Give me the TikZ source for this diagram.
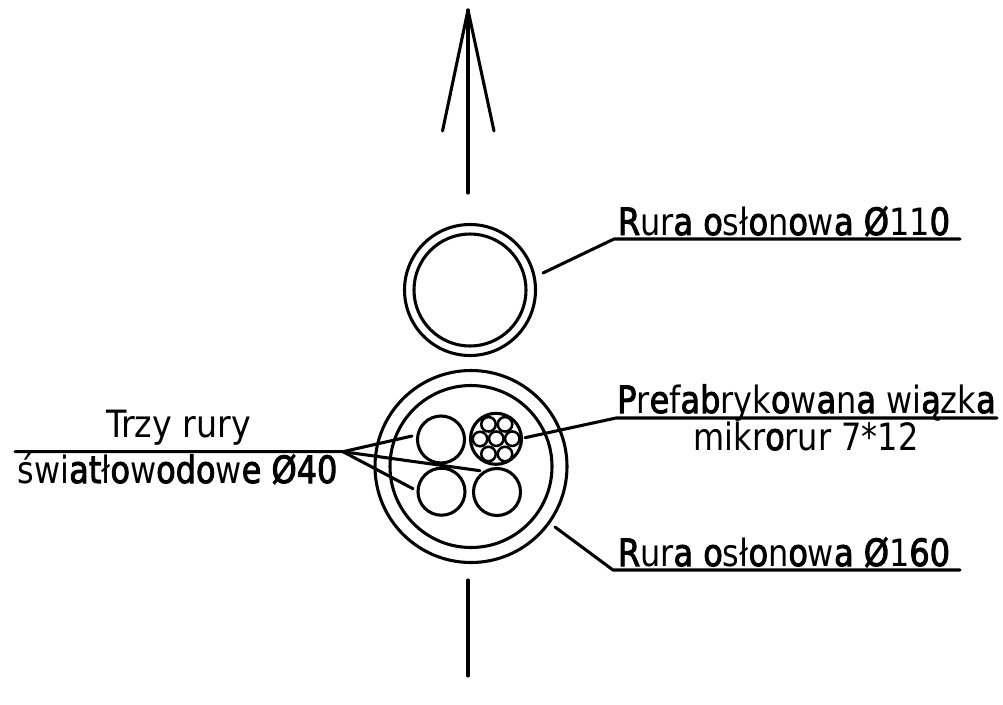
\documentclass[tikz,border=0pt]{standalone}
\usepackage{fontspec}
\setmainfont{DejaVu Sans Condensed}
\newfontfamily\fbfont[FakeBold=2.6]{DejaVu Sans Condensed}
\newcommand{\fb}[1]{{\fbfont #1}}
\newcommand{\sq}[2][.945]{\scalebox{#1}[1]{#2}}
\tikzset{
  ln/.style={line width=2.3pt,line cap=round,line join=round},
  pipe/.style={circle,draw,line width=2.3pt,inner sep=0pt,outer sep=0pt,minimum size=#1*0.75pt},
  micro/.style={circle,draw,line width=1.9pt,inner sep=0pt,outer sep=0pt,minimum size=#1*0.75pt},
  lab/.style={anchor=base,inner sep=0pt,font=\fontsize{28.2pt}{30pt}\selectfont}
}
\begin{document}
\begin{tikzpicture}[x=0.75pt,y=-0.75pt]
\useasboundingbox (0,0) rectangle (1003,704);
% arrow
\coordinate (tip) at (468,10);
\coordinate (barbL) at (442.5,131);
\coordinate (barbR) at (494,131);
\coordinate (shaftEnd) at (468,193);
\draw[ln] (barbL) -- (tip) -- (barbR);
\draw[ln] (tip) -- (shaftEnd);
\coordinate (lowTop) at (468,580);
\coordinate (lowEnd) at (468,676);
\draw[ln] (lowTop) -- (lowEnd);
% upper pipe
\node[pipe=131] (o110) at (470,290) {};
\node[pipe=112] (i110) at (470,290) {};
% lower pipe
\node[pipe=192] (o160) at (471,466.5) {};
\node[pipe=162] (i160) at (471,466.5) {};
\node[pipe=47] (tl) at (441,439.5) {};
\node[pipe=47] (bl) at (441.5,491.7) {};
\node[pipe=47] (br) at (497,492) {};
\node[pipe=51] (bundle) at (496,438.8) {};
\foreach \n/\x/\y in {m0/496.3/438.7,m1/480/439,m2/512.3/438.7,m3/488.5/424.3,m4/505/424.3,m5/488.5/454,m6/505/454}
  \node[micro=14.5] (\n) at (\x,\y) {};
% leaders
\coordinate (hub) at (343,451.7);
\coordinate (hubL) at (15,451.7);
\coordinate (a1) at (412,436);
\coordinate (a2) at (480,470.7);
\coordinate (a3) at (413,488.7);
\draw[ln] (hubL) -- (hub) -- (a1);
\draw[ln] (hub) -- (a2);
\draw[ln] (hub) -- (a3);
\coordinate (p0) at (525,437.7);
\coordinate (p1) at (616,418);
\coordinate (p2) at (997,418);
\draw[ln] (p0) -- (p1) -- (p2);
\coordinate (r0) at (543,273);
\coordinate (r1) at (614,239);
\coordinate (r2) at (960,239);
\draw[ln] (r0) -- (r1) -- (r2);
\coordinate (s0) at (555,527);
\coordinate (s1) at (613,570);
\coordinate (s2) at (960,570);
\draw[ln] (s0) -- (s1) -- (s2);
% labels
\node[lab] (t110) at (784,235) {\sq{\fb{R}ur\fb{a} \fb{o}sł\fb{o}n\fb{o}w\fb{a} \fb{Ø}11\fb{0}}};
\node[lab] (t160) at (784,566) {\sq{\fb{R}ur\fb{a} \fb{o}sł\fb{o}n\fb{o}w\fb{a} \fb{Ø}1\fb{60}}};
\node[lab] (tpre) at (806.5,413) {\sq{\fb{P}r\fb{e}f\fb{ab}ryk\fb{o}w\fb{a}n\fb{a} wi\fb{ą}zk\fb{a}}};
\node[lab] (tmik) at (806,450) {\sq{mikr\fb{o}rur 7*12}};
\node[lab] (ttrz) at (178.5,437) {\sq[.985]{Trzy rury}};
\node[lab] (tswi) at (177.5,483) {\sq{świ\fb{at}ł\fb{o}w\fb{odo}w\fb{e} \fb{Ø40}}};
\end{tikzpicture}
\end{document}
